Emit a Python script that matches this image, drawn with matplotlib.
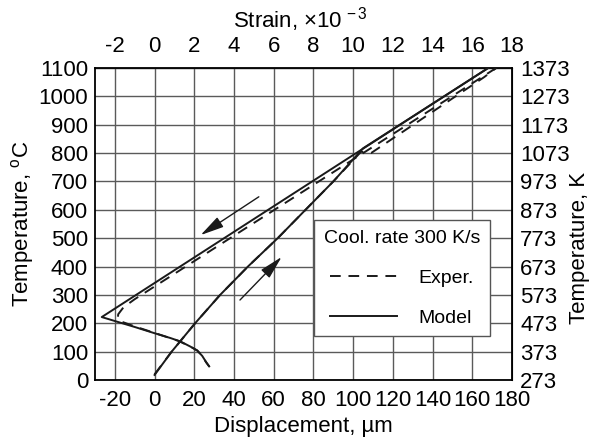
import numpy                as np
import matplotlib
matplotlib.use('Agg')
import matplotlib.pyplot    as plt
from matplotlib.lines       import Line2D


# model: heating branch, austenite line (heating top + cooling), martensite branch
model_heat_x        = [0.0, 8.6, 20.4, 33.0, 47.0, 62.0, 76.0, 90.0, 105.0, 168.0]
model_heat_t        = [18.0, 100.0, 200.0, 300.0, 400.0, 500.0, 600.0, 700.0, 817.0, 1100.0]
model_cool_x        = [168.0, -26.6, -20.0, -10.0, 0.0, 8.0, 13.0, 18.0, 21.5, 24.0, 25.8, 27.5]
model_cool_t        = [1100.0, 222.0, 208.0, 187.0, 165.0, 148.0, 136.0, 118.0, 104.0, 85.0, 65.0, 48.0]

# experiment
exper_heat_x        = [0.0, 8.6, 20.4, 33.0, 47.0, 62.0, 76.0, 90.0, 104.0, 109.0, 166.0, 172.0]
exper_heat_t        = [20.0, 100.0, 200.0, 300.0, 400.0, 500.0, 600.0, 700.0, 805.0, 800.0, 1068.0, 1100.0]
exper_cool_x        = [172.0, 80.0, -10.0, -15.7, -18.3, -18.5, -17.5, -10.0, 0.0, 12.0, 18.0, 21.5, 24.0, 26.0, 27.5]
exper_cool_t        = [1100.0, 688.0, 285.0, 256.0, 232.0, 220.0, 208.0, 189.0, 166.0, 138.0, 118.0, 104.0, 85.0, 62.0, 48.0]

# direction arrows (tail x, tail T, head x, head T)
arrow_cool          = [52.5, 646.0, 23.2, 511.0]
arrow_heat          = [43.0, 282.0, 64.0, 434.0]

x_ticks             = np.arange(-20, 181, 20)
t_ticks             = np.arange(0, 1101, 100)
strain_ticks        = np.arange(-2, 19, 2)
kelvin_ticks        = np.arange(273, 1374, 100)


def plot_dilatometry():

    plt.rcParams['font.family']         = ['Liberation Sans', 'DejaVu Sans']
    plt.rcParams['font.size']           = 16
    plt.rcParams['axes.unicode_minus']  = False
    plt.rcParams['mathtext.fontset']    = 'custom'
    plt.rcParams['mathtext.rm']         = 'Liberation Sans'
    plt.rcParams['mathtext.it']         = 'Liberation Sans'

    fig                                 = plt.figure(figsize=(5.93, 4.44), dpi=100)
    ax                                  = fig.add_axes([0.1602, 0.1441, 0.7032, 0.7027])

    dash                                = (0, (5.5, 4.0))
    ax.plot(model_heat_x, model_heat_t, color='#1a1a1a', lw=1.4, zorder=3)
    ax.plot(model_cool_x, model_cool_t, color='#1a1a1a', lw=1.4, zorder=3)
    ax.plot(exper_heat_x, exper_heat_t, color='#1a1a1a', lw=1.4, ls=dash, zorder=3)
    ax.plot(exper_cool_x, exper_cool_t, color='#1a1a1a', lw=1.4, ls=dash, zorder=3)

    for a in (arrow_cool, arrow_heat):
        ax.annotate('', xy=(a[2], a[3]), xytext=(a[0], a[1]),
                    arrowprops=dict(arrowstyle='-|>,head_length=0.9,head_width=0.22',
                                    color='#1a1a1a', lw=1.0, shrinkA=0, shrinkB=0))

    ax.set_xlim(-30, 180)
    ax.set_ylim(0, 1100)
    ax.set_xticks(x_ticks)
    ax.set_yticks(t_ticks)
    ax.grid(color='#5a5a5a', linewidth=1.0)
    ax.set_axisbelow(True)
    for s in ax.spines.values():
        s.set_linewidth(1.3)
    ax.tick_params(axis='x', length=0, pad=7)
    ax.tick_params(axis='y', length=0, pad=5)

    ax.set_xlabel('Displacement, µm', labelpad=4)
    ax.set_ylabel('Temperature, $^{\\mathrm{o}}$C', labelpad=2)

    top                                 = ax.secondary_xaxis('top', functions=(lambda d: d / 10.0, lambda s: s * 10.0))
    top.set_xticks(strain_ticks)
    top.tick_params(length=0, pad=8)
    fig.text(300 / 593, 1 - 20 / 444, 'Strain, ×10$^{\\,-3}$', ha='center', va='center')

    right                               = ax.secondary_yaxis('right', functions=(lambda c: c + 273.0, lambda k: k - 273.0))
    right.set_yticks(kelvin_ticks)
    right.tick_params(length=0, pad=6)
    fig.text(579 / 593, 1 - 248 / 444, 'Temperature, K', rotation=90, ha='center', va='center')

    handles                             = [Line2D([], [], color='#1a1a1a', lw=1.4, ls=dash),
                                           Line2D([], [], color='#1a1a1a', lw=1.4)]
    leg                                 = ax.legend(handles, ['Exper.', 'Model'], title='Cool. rate 300 K/s',
                                                    loc='upper left', bbox_to_anchor=(0.525, 0.513),
                                                    handlelength=3.4, handletextpad=1.1, labelspacing=1.15,
                                                    borderpad=0.5, fancybox=False, framealpha=1.0,
                                                    edgecolor='#555555', fontsize=14, title_fontsize=14,
                                                    borderaxespad=0)
    leg.get_frame().set_linewidth(1.0)

    fig.savefig('out.png', dpi=100)


if __name__ == "__main__":

    plot_dilatometry()
